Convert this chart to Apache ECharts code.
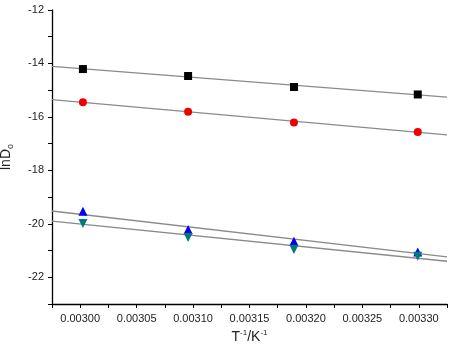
<!DOCTYPE html>
<html>
<head>
<meta charset="utf-8">
<script src="https://cdn.jsdelivr.net/npm/echarts@6/dist/echarts.min.js"></script>
<style>
  html, body { margin: 0; padding: 0; background: #fff; }
  #main { width: 456px; height: 351px; }
</style>
</head>
<body>
<div id="main"></div>
<script>
  // inverse temperature (1/K)
  var invT = [0.0030024, 0.0030956, 0.0031894, 0.0032991]

  // measured lnDo per sample
  var squareVals = [-14.21, -14.47, -14.88, -15.16]
  var circleVals = [-15.45, -15.81, -16.21, -16.56]
  var upTriVals = [-19.53, -20.21, -20.65, -21.05]
  var downTriVals = [-19.99, -20.51, -20.96, -21.21]

  // fit line end points, read at the plot edges
  var fitX = [0.002975, 0.003325]
  var fitSquare = [-14.11, -15.26]
  var fitCircle = [-15.35, -16.67]
  var fitUpTri = [-19.52, -21.24]
  var fitDownTri = [-19.90, -21.40]

  var font = 'Liberation Sans, Arial, sans-serif'

  function pairs(xs, ys) {
    return xs.map(function (x, i) { return [x, ys[i]] })
  }

  function fitLine(ys) {
    return {
      type: 'line',
      data: pairs(fitX, ys),
      showSymbol: false,
      silent: true,
      z: 1,
      lineStyle: { color: '#8a8a8a', width: 1.3 }
    }
  }

  function points(ys, symbol, color, size, rotate) {
    return {
      type: 'scatter',
      data: pairs(invT, ys),
      symbol: symbol,
      symbolSize: size,
      symbolRotate: rotate || 0,
      z: 3,
      itemStyle: { color: color, opacity: 1 }
    }
  }

  var chart = echarts.init(document.getElementById('main'))
  chart.setOption({
    backgroundColor: '#ffffff',
    animation: false,
    grid: { left: 52, right: 9, top: 10, bottom: 47, outerBoundsMode: 'none', containLabel: false },
    xAxis: {
      type: 'value',
      min: 0.002975,
      max: 0.003325,
      interval: 0.000025,
      splitLine: { show: false },
      axisLine: { lineStyle: { color: '#000', width: 1.3 } },
      axisTick: { show: true, inside: false, length: 4, lineStyle: { color: '#000' } },
      axisLabel: {
        margin: 9,
        color: '#222',
        fontSize: 11,
        fontFamily: font,
        formatter: function (v) {
          return Math.round(v / 0.000025) % 2 === 0 ? v.toFixed(5) : ''
        }
      },
      name: 'T{sup|-1}/K{sup|-1}',
      nameLocation: 'middle',
      nameGap: 19,
      nameTextStyle: {
        color: '#222',
        fontSize: 14,
        fontFamily: font,
        rich: {
          sup: { fontSize: 8, verticalAlign: 'top', padding: [0, 0, 8, 0], fontFamily: font, color: '#222' }
        }
      }
    },
    yAxis: {
      type: 'value',
      min: -23,
      max: -12,
      interval: 1,
      splitLine: { show: false },
      axisLine: { lineStyle: { color: '#000', width: 1.3 } },
      axisTick: { show: true, inside: false, length: 4, lineStyle: { color: '#000' } },
      axisLabel: {
        margin: 8,
        color: '#222',
        fontSize: 11,
        fontFamily: font,
        formatter: function (v) {
          return Math.round(v) % 2 === 0 ? String(v) : ''
        }
      },
      name: 'lnD{sub|o}',
      nameLocation: 'middle',
      nameGap: 37,
      nameTextStyle: {
        color: '#222',
        fontSize: 14,
        fontFamily: font,
        rich: {
          sub: { fontSize: 9, verticalAlign: 'bottom', padding: [8, 0, 0, 0], fontFamily: font, color: '#222' }
        }
      }
    },
    series: [
      fitLine(fitSquare),
      fitLine(fitCircle),
      fitLine(fitUpTri),
      fitLine(fitDownTri),
      points(squareVals, 'rect', '#000000', 8),
      points(circleVals, 'circle', '#ee0000', 8),
      points(upTriVals, 'triangle', '#0000ee', 9),
      points(downTriVals, 'triangle', '#007a7a', 9, 180)
    ]
  })
</script>
</body>
</html>
